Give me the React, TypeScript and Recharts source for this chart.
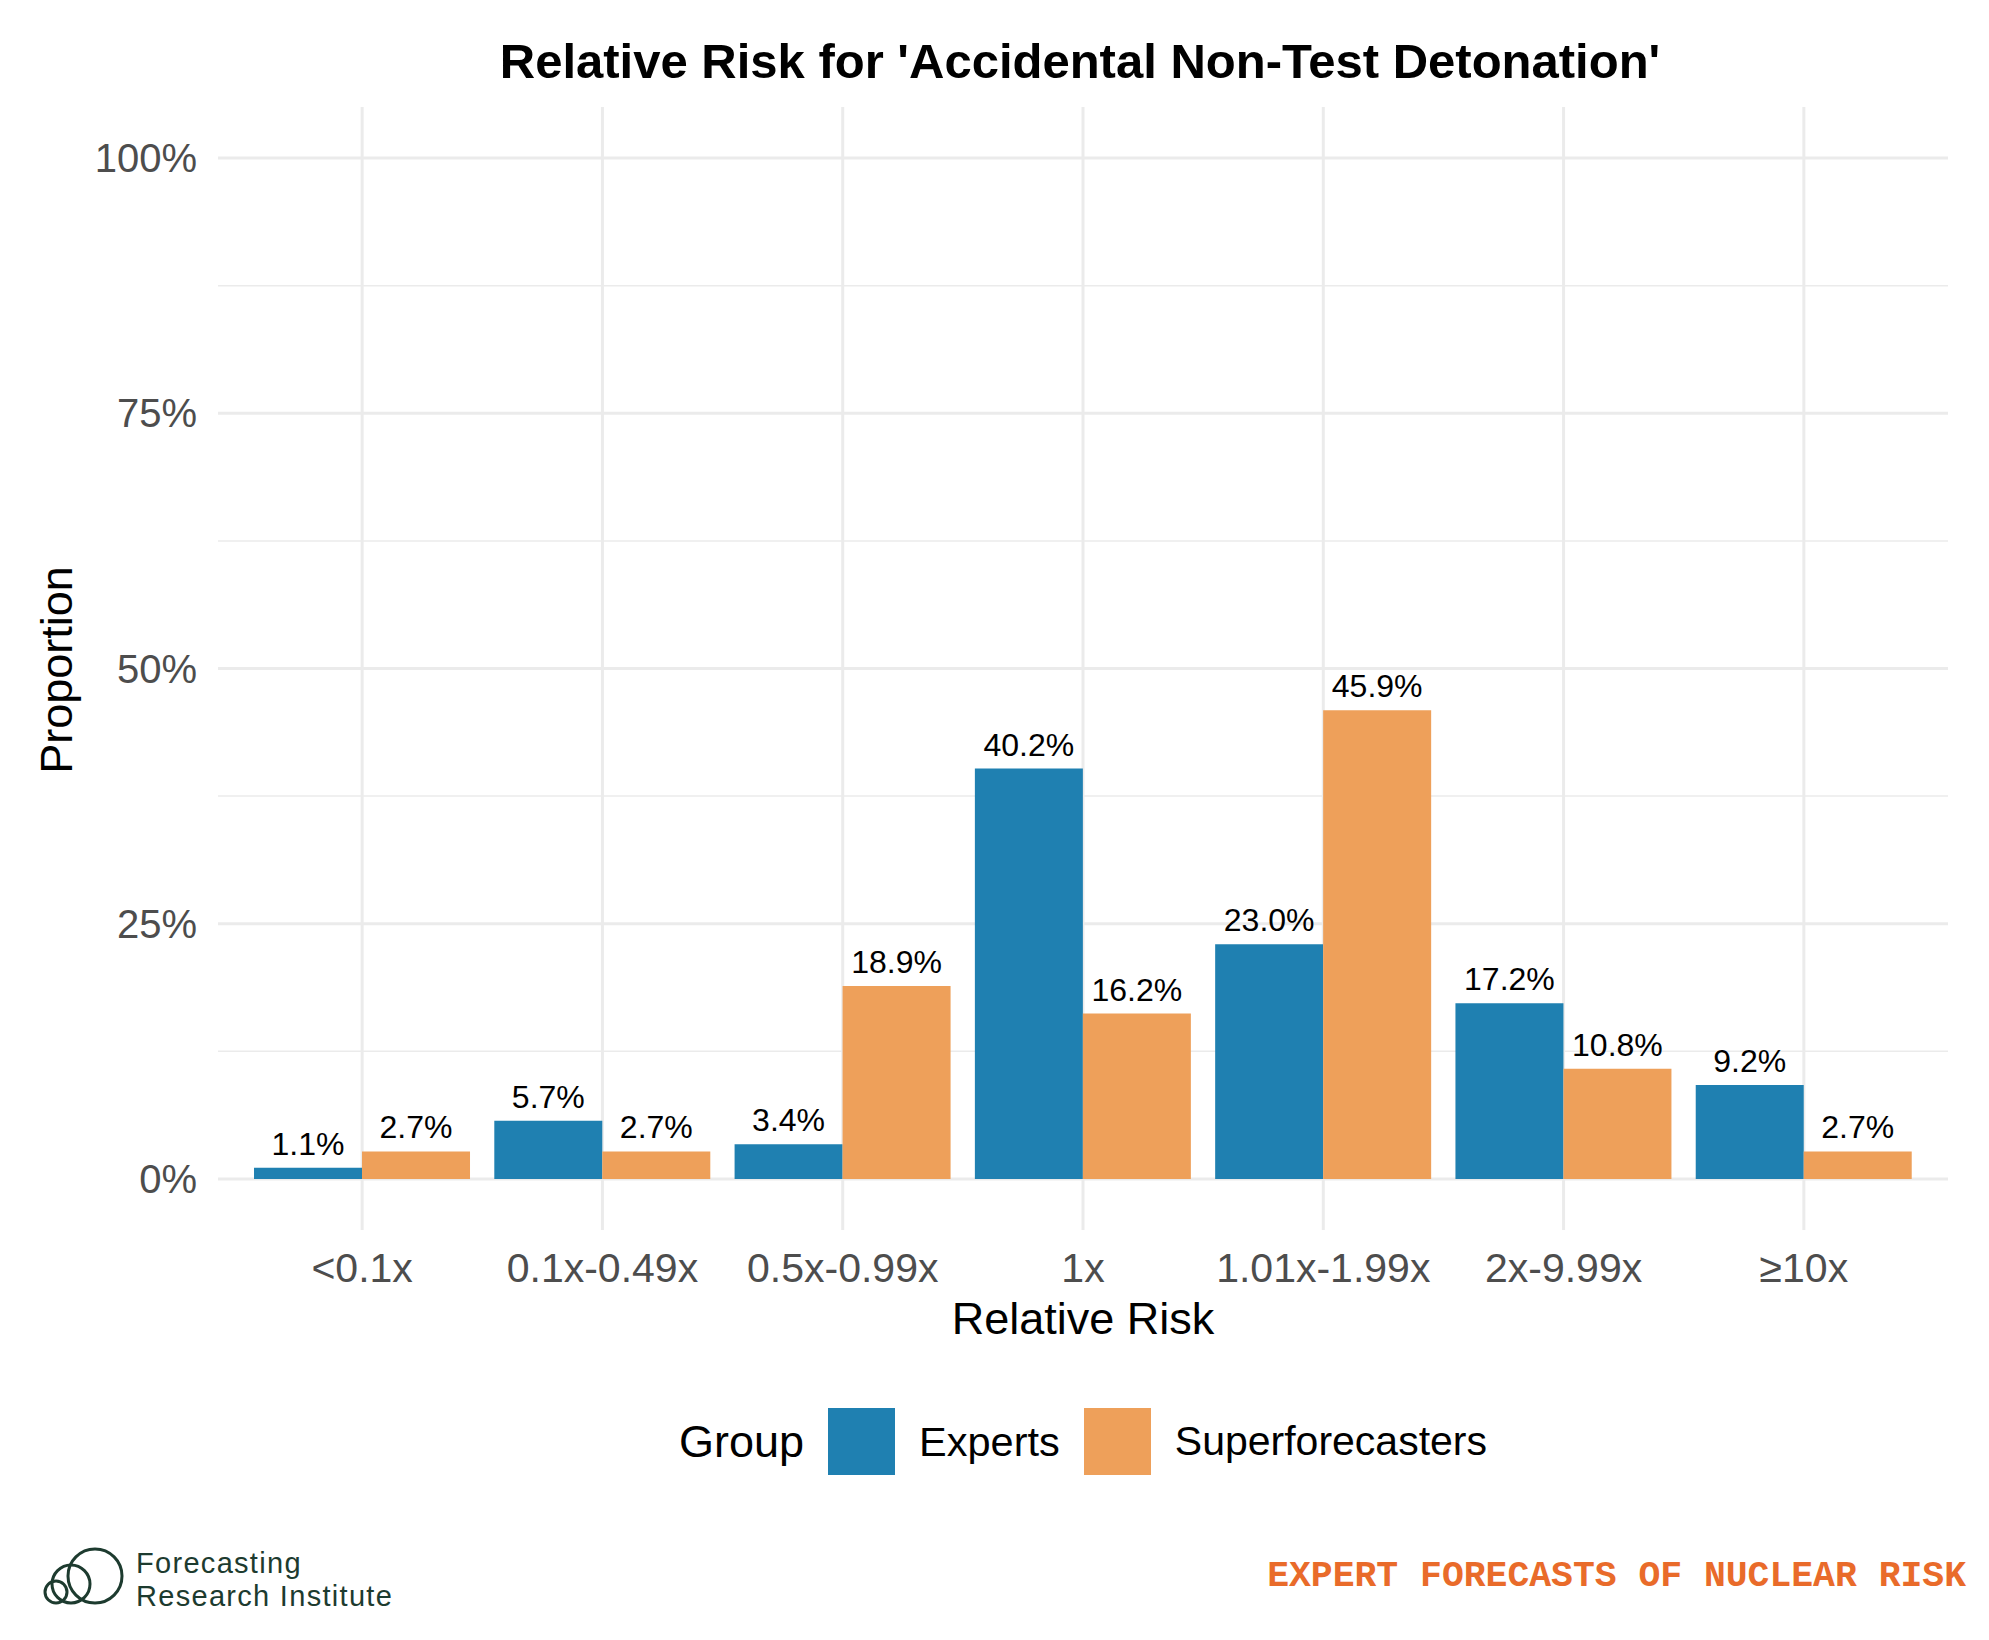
import React from 'react';
import { BarChart, Bar, XAxis, YAxis, CartesianGrid, LabelList } from 'recharts';

const categories = ['<0.1x', '0.1x-0.49x', '0.5x-0.99x', '1x', '1.01x-1.99x', '2x-9.99x', '≥10x'];
const experts = [1.1, 5.7, 3.4, 40.2, 23.0, 17.2, 9.2];
const superforecasters = [2.7, 2.7, 18.9, 16.2, 45.9, 10.8, 2.7];
const yTicks = [0, 25, 50, 75, 100];
const yMinorTicks = [12.5, 37.5, 62.5, 87.5];
const yDomain = [-5, 105];

const BLUE = '#1F80B1';
const ORANGE = '#EEA05A';
const GRID = '#ebebeb';
const FONT = '"Liberation Sans", Arial, Helvetica, sans-serif';

const chartData = categories.map((cat, i) => ({
  cat,
  Experts: experts[i],
  Superforecasters: superforecasters[i],
}));

const BarLabel = (props: any) => {
  const { x, y, width, value } = props;
  return (
    <text
      x={x + width / 2}
      y={y - 13}
      textAnchor="middle"
      fontSize={32}
      fontFamily={FONT}
      fill="#000"
    >
      {`${Number(value).toFixed(1)}%`}
    </text>
  );
};

// minor gridlines, halfway between the major ones
const minorGenerator = ({ yAxis, offset }: any) => {
  const s = yAxis && yAxis.scale;
  if (typeof s === 'function') return yMinorTicks.map((v) => s(v));
  if (s && typeof s.map === 'function') return yMinorTicks.map((v) => s.map(v));
  const [lo, hi] = yDomain;
  return yMinorTicks.map((v) => offset.top + (offset.height * (hi - v)) / (hi - lo));
};

export default function App() {
  return (
    <div
      style={{
        position: 'absolute',
        left: 0,
        top: 0,
        width: 1989,
        height: 1640,
        background: '#fff',
        fontFamily: FONT,
        overflow: 'hidden',
      }}
    >
      <div
        style={{
          position: 'absolute',
          left: 0,
          width: 2160,
          top: 32,
          textAlign: 'center',
          fontSize: 49,
          fontWeight: 'bold',
          lineHeight: '58px',
          color: '#000',
        }}
      >
        Relative Risk for 'Accidental Non-Test Detonation'
      </div>

      <BarChart
        width={1989}
        height={1640}
        data={chartData}
        margin={{ top: 107, right: 41, left: 98, bottom: 350 }}
        barCategoryGap="5%"
        barGap={0}
      >
        <CartesianGrid
          stroke={GRID}
          strokeWidth={1.5}
          vertical={false}
          syncWithTicks
          horizontalCoordinatesGenerator={minorGenerator}
        />
        <CartesianGrid stroke={GRID} strokeWidth={3} syncWithTicks />
        <XAxis
          dataKey="cat"
          type="category"
          padding={{ left: 24, right: 24 }}
          axisLine={false}
          tickLine={false}
          tickSize={6}
          tickMargin={17}
          height={60}
          interval={0}
          tick={{ fill: '#4d4d4d', fontSize: 41, fontFamily: FONT }}
        />
        <YAxis
          type="number"
          domain={yDomain}
          ticks={yTicks}
          allowDataOverflow
          axisLine={false}
          tickLine={false}
          tickSize={6}
          tickMargin={15}
          width={120}
          tickFormatter={(v: number) => `${v}%`}
          tick={{ fill: '#4d4d4d', fontSize: 40, fontFamily: FONT }}
        />
        <Bar dataKey="Experts" fill={BLUE} isAnimationActive={false}>
          <LabelList dataKey="Experts" content={BarLabel} />
        </Bar>
        <Bar dataKey="Superforecasters" fill={ORANGE} isAnimationActive={false}>
          <LabelList dataKey="Superforecasters" content={BarLabel} />
        </Bar>
      </BarChart>

      {/* axis titles */}
      <div
        style={{
          position: 'absolute',
          left: 57,
          top: 670,
          transform: 'translate(-50%, -50%) rotate(-90deg)',
          fontSize: 45,
          color: '#000',
          whiteSpace: 'nowrap',
        }}
      >
        Proportion
      </div>
      <div
        style={{
          position: 'absolute',
          left: 1083,
          top: 1319,
          transform: 'translate(-50%, -50%)',
          fontSize: 45,
          color: '#000',
          whiteSpace: 'nowrap',
        }}
      >
        Relative Risk
      </div>

      {/* legend */}
      <div
        style={{
          position: 'absolute',
          left: 679,
          top: 1408,
          height: 67,
          display: 'flex',
          alignItems: 'center',
          color: '#000',
          whiteSpace: 'nowrap',
        }}
      >
        <span style={{ fontSize: 45, marginRight: 24 }}>Group</span>
        <span style={{ width: 67, height: 67, background: BLUE, display: 'inline-block' }} />
        <span style={{ fontSize: 41.5, marginLeft: 24, marginRight: 24 }}>Experts</span>
        <span style={{ width: 67, height: 67, background: ORANGE, display: 'inline-block' }} />
        <span style={{ fontSize: 41, marginLeft: 24 }}>Superforecasters</span>
      </div>

      {/* footer */}
      <svg
        width={450}
        height={110}
        style={{ position: 'absolute', left: 0, top: 1530 }}
      >
        <g fill="none" stroke="#1d3b2f" strokeWidth={3}>
          <circle cx={56} cy={62} r={11} />
          <circle cx={71} cy={54} r={19} />
          <circle cx={95} cy={46} r={27} />
        </g>
        <text x={136} y={43} fontSize={29} letterSpacing={1.3} fontFamily={FONT} fill="#1d3b2f">
          Forecasting
        </text>
        <text x={136} y={76} fontSize={29} letterSpacing={1.3} fontFamily={FONT} fill="#1d3b2f">
          Research Institute
        </text>
      </svg>
      <div
        style={{
          position: 'absolute',
          right: 23,
          top: 1556,
          fontFamily: '"Liberation Mono", "DejaVu Sans Mono", monospace',
          fontWeight: 'bold',
          fontSize: 36.4,
          color: '#E96B2A',
          whiteSpace: 'nowrap',
        }}
      >
        EXPERT FORECASTS OF NUCLEAR RISK
      </div>
    </div>
  );
}
